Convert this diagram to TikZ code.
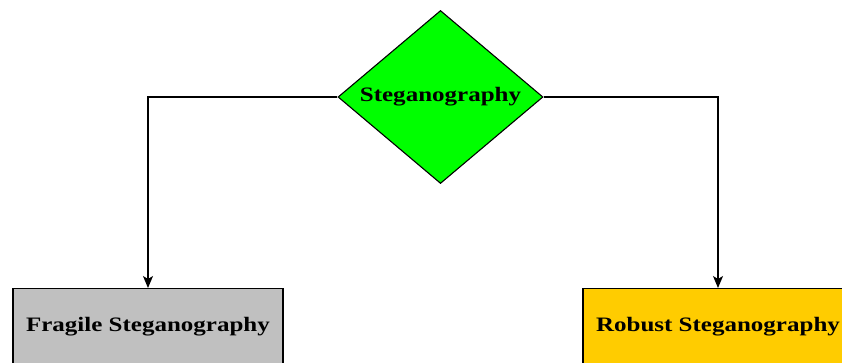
\documentclass[tikz,border=0pt]{standalone}
\usepackage{fontspec}
\newfontfamily\lblfont{Liberation Serif}[FakeStretch=1.22]
\usetikzlibrary{shapes.geometric,arrows.meta}
\definecolor{dgreen}{RGB}{0,255,0}
\definecolor{dgray}{RGB}{192,192,192}
\definecolor{dyellow}{RGB}{255,204,0}
\begin{document}
\begin{tikzpicture}[x=1pt,y=-1pt,
  lbl/.style={font=\lblfont\bfseries\fontsize{20.5}{24}\selectfont, text=black},
  dia/.style={diamond, draw=black, line width=1.1pt, fill=dgreen, inner sep=0pt,
    aspect=1.185, minimum width=205pt, minimum height=173pt, lbl},
  boxnode/.style={rectangle, draw=black, line width=1.1pt, inner sep=0pt,
    minimum width=270pt, minimum height=76pt, anchor=north, lbl},
  conn/.style={draw=black, line width=1.1pt, -{Stealth[length=12pt,width=10pt,inset=3pt]}}
]
\useasboundingbox (0,0) rectangle (842,362);
\clip (0,0) rectangle (842,362);
\node[dia] (steg) at (440.5,97) {Steganography};
\node[boxnode, fill=dgray] (frag) at (148,288) {Fragile Steganography};
\node[boxnode, fill=dyellow] (rob) at (718,288) {Robust Steganography};
\draw[conn] (steg.west) -| (frag.north);
\draw[conn] (steg.east) -| (rob.north);
\end{tikzpicture}
\end{document}
